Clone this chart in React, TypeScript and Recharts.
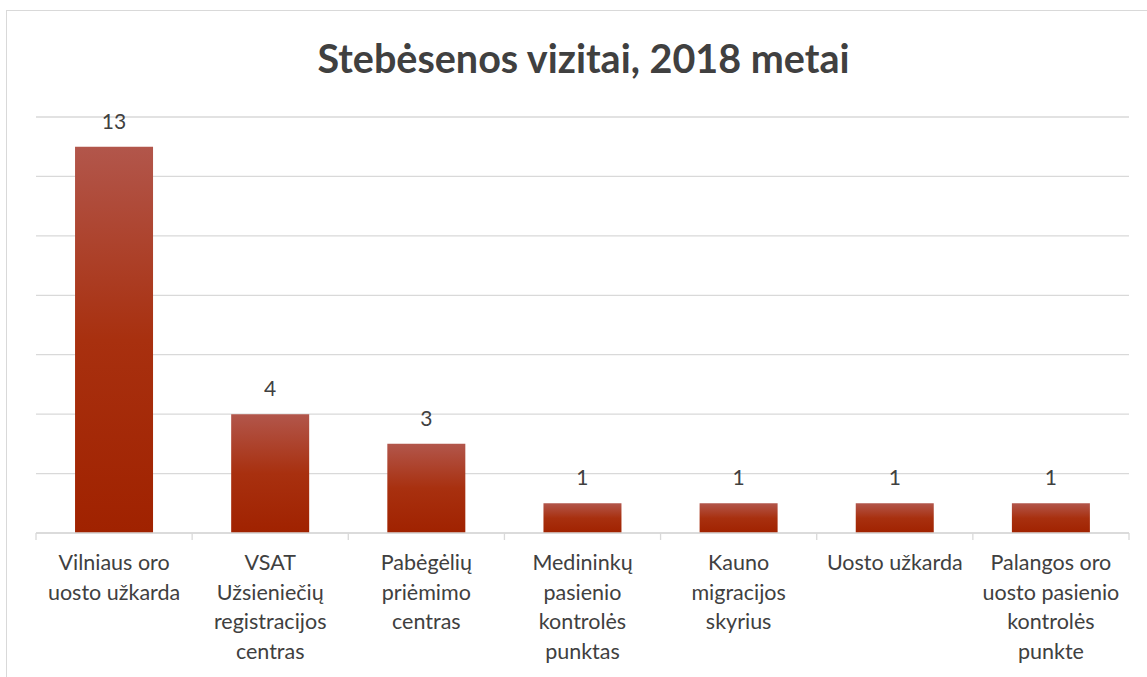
import React from "react"
import { Bar, BarChart, CartesianGrid, LabelList, XAxis, YAxis } from "recharts"

const categories = [
  "Vilniaus oro\nuosto užkarda",
  "VSAT\nUžsieniečių\nregistracijos\ncentras",
  "Pabėgėlių\npriėmimo\ncentras",
  "Medininkų\npasienio\nkontrolės\npunktas",
  "Kauno\nmigracijos\nskyrius",
  "Uosto užkarda",
  "Palangos oro\nuosto pasienio\nkontrolės\npunkte",
]
const visits = [13, 4, 3, 1, 1, 1, 1]
const yTicks = [0, 2, 4, 6, 8, 10, 12, 14]

const data = categories.map((name, i) => ({ name, visits: visits[i] }))

const FONT = "Lato, 'Open Sans', sans-serif"
const TEXT = "#404040"
const GRID = "#d9d9d9"

const W = 1147
const H = 677
const M = { top: 117, right: 18, bottom: 114, left: 36 }

function CategoryTick(props: any) {
  const { x, y, payload, index } = props
  const band = (W - M.left - M.right) / categories.length
  const lines = String(payload.value).split("\n")
  return (
    <g>
      <line x1={x - band / 2} x2={x - band / 2} y1={y} y2={y + 7} stroke={GRID} strokeWidth={1.3} />
      {index === categories.length - 1 && (
        <line x1={x + band / 2} x2={x + band / 2} y1={y} y2={y + 7} stroke={GRID} strokeWidth={1.3} />
      )}
      <text x={x} y={y} textAnchor="middle" fill={TEXT} fontSize={21.5} fontFamily={FONT}>
        {lines.map((l, i) => (
          <tspan key={i} x={x} y={y + 37 + i * 29.6}>
            {l}
          </tspan>
        ))}
      </text>
    </g>
  )
}

export default function App() {
  return (
    <div style={{ position: "absolute", left: 0, top: 0, width: W, height: H, overflow: "hidden", background: "#fff" }}>
      <div
        style={{
          position: "absolute",
          left: 6,
          top: 10,
          width: 1300,
          height: 1000,
          border: `1px solid ${GRID}`,
        }}
      />
      <div
        style={{
          position: "absolute",
          left: 0,
          top: 33,
          width: W + 20,
          textAlign: "center",
          fontFamily: FONT,
          fontWeight: 700,
          fontSize: 39.5,
          color: TEXT,
          lineHeight: "50px",
        }}
      >
        Stebėsenos vizitai, 2018 metai
      </div>
      <div style={{ position: "absolute", left: 0, top: 0 }}>
        <BarChart width={W} height={H} data={data} margin={M} barCategoryGap="25%">
          <defs>
            <linearGradient id="barFill" x1="0" y1="0" x2="0" y2="1">
              <stop offset="0%" stopColor="#b2564b" />
              <stop offset="50%" stopColor="#a8300f" />
              <stop offset="100%" stopColor="#a02200" />
            </linearGradient>
          </defs>
          <CartesianGrid vertical={false} stroke={GRID} strokeWidth={1.3} />
          <XAxis
            dataKey="name"
            axisLine={{ stroke: GRID, strokeWidth: 1.3 }}
            tickLine={false}
            tickSize={0}
            tickMargin={0}
            interval={0}
            tick={<CategoryTick />}
          />
          <YAxis hide domain={[0, 14]} ticks={yTicks} />
          <Bar dataKey="visits" fill="url(#barFill)" isAnimationActive={false}>
            <LabelList dataKey="visits" position="top" offset={18} fill={TEXT} fontSize={21} fontFamily={FONT} />
          </Bar>
        </BarChart>
      </div>
    </div>
  )
}
